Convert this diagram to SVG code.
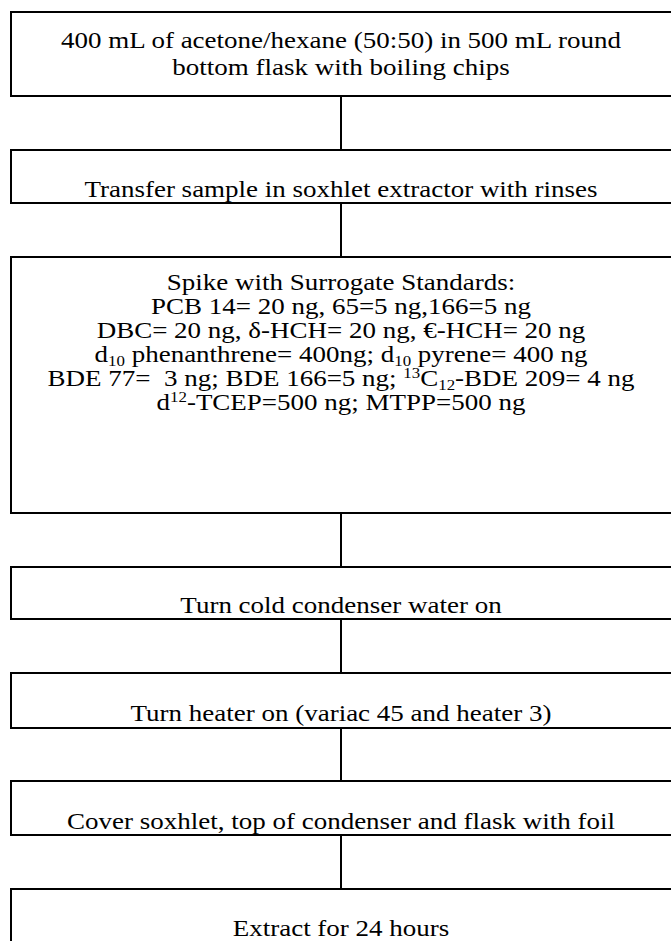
<svg xmlns="http://www.w3.org/2000/svg" width="671" height="941" viewBox="0 0 671 941">
<style>
.box{fill:#fff;stroke:#000;stroke-width:2}
.ln{stroke:#000;stroke-width:2;fill:none}
text{font-family:"Liberation Serif","Times New Roman",serif;font-size:24px;fill:#000;text-anchor:middle}
.sub{font-size:15px}
</style>
<rect width="671" height="941" fill="#fff"/>
<g id="connectors">
<line class="ln" x1="341" y1="96" x2="341" y2="150"/>
<line class="ln" x1="341" y1="203" x2="341" y2="257"/>
<line class="ln" x1="341" y1="513" x2="341" y2="567"/>
<line class="ln" x1="341" y1="619" x2="341" y2="673"/>
<line class="ln" x1="341" y1="728" x2="341" y2="781"/>
<line class="ln" x1="341" y1="835" x2="341" y2="889"/>
</g>
<g id="n1"><rect class="box" x="11" y="12" width="700" height="84"/>
<text transform="translate(341 48) scale(1.125 1)">400 mL of acetone/hexane (50:50) in 500 mL round</text>
<text transform="translate(341 75) scale(1.125 1)">bottom flask with boiling chips</text></g>
<g id="n2"><rect class="box" x="11" y="150" width="700" height="53"/>
<text transform="translate(341 197) scale(1.125 1)">Transfer sample in soxhlet extractor with rinses</text></g>
<g id="n3"><rect class="box" x="11" y="257" width="700" height="256"/>
<text transform="translate(341 290) scale(1.125 1)">Spike with Surrogate Standards:</text>
<text transform="translate(341 314) scale(1.125 1)">PCB 14= 20 ng, 65=5 ng,166=5 ng</text>
<text transform="translate(341 338) scale(1.125 1)">DBC= 20 ng, δ-HCH= 20 ng, €-HCH= 20 ng</text>
<text transform="translate(341 362) scale(1.125 1)">d<tspan class="sub" dy="4">10</tspan><tspan dy="-4"> phenanthrene= 400ng; d</tspan><tspan class="sub" dy="4">10</tspan><tspan dy="-4"> pyrene= 400 ng</tspan></text>
<text transform="translate(341 386) scale(1.125 1)" xml:space="preserve">BDE 77=  3 ng; BDE 166=5 ng; <tspan class="sub" dy="-8">13</tspan><tspan dy="8">C</tspan><tspan class="sub" dy="4">12</tspan><tspan dy="-4">-BDE 209= 4 ng</tspan></text>
<text transform="translate(341 410) scale(1.125 1)">d<tspan class="sub" dy="-8">12</tspan><tspan dy="8">-TCEP=500 ng; MTPP=500 ng</tspan></text></g>
<g id="n4"><rect class="box" x="11" y="567" width="700" height="52"/>
<text transform="translate(341 613) scale(1.125 1)">Turn cold condenser water on</text></g>
<g id="n5"><rect class="box" x="11" y="673" width="700" height="55"/>
<text transform="translate(341 721) scale(1.125 1)">Turn heater on (variac 45 and heater 3)</text></g>
<g id="n6"><rect class="box" x="11" y="781" width="700" height="54"/>
<text transform="translate(341 829) scale(1.125 1)">Cover soxhlet, top of condenser and flask with foil</text></g>
<g id="n7"><rect class="box" x="11" y="889" width="700" height="80"/>
<text transform="translate(341 936) scale(1.125 1)">Extract for 24 hours</text></g>
</svg>
